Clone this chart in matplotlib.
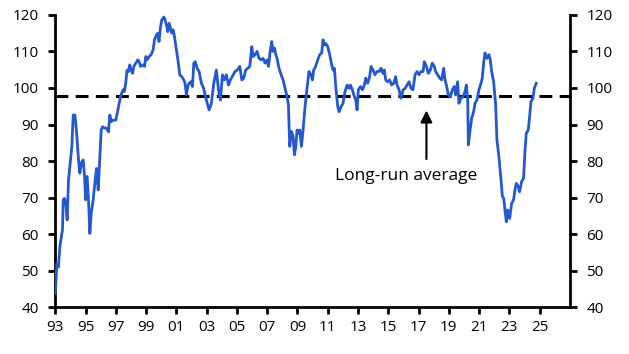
import matplotlib.pyplot as plt
import numpy as np

# index (decimal year, value)
years = [
    1993.0, 1993.1, 1993.2, 1993.3, 1993.43, 1993.47, 1993.52, 1993.6, 1993.69,
    1993.78, 1993.87, 1994.0, 1994.09, 1994.18, 1994.29, 1994.35, 1994.44, 1994.53,
    1994.62, 1994.71, 1994.84, 1994.93, 1995.0, 1995.1, 1995.19, 1995.28, 1995.37,
    1995.5, 1995.63, 1995.72, 1995.83, 1995.94, 1996.03, 1996.12, 1996.27, 1996.38,
    1996.51, 1996.6, 1996.69, 1996.82, 1997.0, 1997.13, 1997.26, 1997.34, 1997.47,
    1997.56, 1997.65, 1997.74, 1997.83, 1997.92, 1998.01, 1998.1, 1998.19, 1998.32,
    1998.45, 1998.54, 1998.63, 1998.76, 1998.89, 1998.98, 1999.07, 1999.2, 1999.33,
    1999.46, 1999.55, 1999.68, 1999.77, 1999.85, 1999.94, 2000.03, 2000.17, 2000.25,
    2000.34, 2000.43, 2000.52, 2000.61, 2000.7, 2000.78, 2000.87, 2001.0, 2001.13,
    2001.22, 2001.35, 2001.49, 2001.57, 2001.66, 2001.75, 2001.84, 2001.97, 2002.06,
    2002.15, 2002.24, 2002.37, 2002.5,
    2002.65, 2002.8, 2002.98, 2003.16, 2003.31, 2003.47, 2003.64, 2003.78, 2003.91,
    2004.04, 2004.17, 2004.3, 2004.44, 2004.57, 2004.75, 2004.88, 2005.01, 2005.19,
    2005.32, 2005.45, 2005.58, 2005.71, 2005.85, 2005.98, 2006.07, 2006.2, 2006.33,
    2006.46, 2006.6, 2006.73, 2006.86, 2006.99, 2007.08, 2007.21, 2007.3, 2007.39,
    2007.48, 2007.57, 2007.65, 2007.78, 2007.92, 2008.05, 2008.18, 2008.31, 2008.4,
    2008.49, 2008.6, 2008.71, 2008.8, 2008.89, 2008.97, 2009.06, 2009.15, 2009.26,
    2009.37, 2009.5, 2009.63, 2009.76, 2009.89, 2009.99, 2010.07, 2010.2, 2010.34,
    2010.47, 2010.6, 2010.69, 2010.78, 2010.87, 2011.0, 2011.13, 2011.26, 2011.35,
    2011.44, 2011.53, 2011.66, 2011.75, 2011.88, 2012.01, 2012.14, 2012.28, 2012.41,
    2012.5, 2012.63, 2012.72, 2012.85, 2012.94, 2013.02, 2013.16, 2013.29, 2013.42,
    2013.51, 2013.64, 2013.77, 2013.86, 2013.99, 2014.12, 2014.25, 2014.39, 2014.52,
    2014.65, 2014.74, 2014.83, 2014.96,
    2015.09, 2015.22, 2015.36, 2015.49, 2015.58, 2015.71, 2015.84, 2015.98, 2016.11,
    2016.24, 2016.37, 2016.5, 2016.63, 2016.77, 2016.9, 2017.03, 2017.16, 2017.3,
    2017.38, 2017.52, 2017.65, 2017.78, 2017.91, 2018.04, 2018.13, 2018.27, 2018.4,
    2018.53, 2018.66, 2018.75, 2018.84, 2018.97, 2019.1, 2019.23, 2019.36, 2019.45,
    2019.58, 2019.67, 2019.8, 2019.94, 2020.07, 2020.16, 2020.25, 2020.29, 2020.38,
    2020.51, 2020.64, 2020.73, 2020.86, 2020.99, 2021.13, 2021.21, 2021.3, 2021.39,
    2021.52, 2021.65, 2021.74, 2021.83, 2021.96, 2022.09, 2022.18, 2022.31, 2022.45,
    2022.54, 2022.63, 2022.71, 2022.8, 2022.89, 2023.02, 2023.15, 2023.28, 2023.37,
    2023.46, 2023.59, 2023.68, 2023.81, 2023.94, 2024.03, 2024.12, 2024.25, 2024.34,
    2024.43, 2024.56, 2024.65, 2024.78,
]
index_values = [
    43.8, 52.0, 51.0, 56.6, 60.2, 61.0, 69.4, 69.8, 68.4,
    63.9, 74.8, 80.3, 84.0, 92.6, 92.6, 90.3, 85.8, 80.3,
    76.7, 79.4, 80.3, 75.8, 69.4, 75.8, 69.4, 60.2, 65.7,
    69.4, 74.8, 78.0, 72.1, 81.2, 88.5, 89.4, 89.0, 89.0,
    88.0, 92.6, 90.8, 91.2, 91.2, 94.0, 96.7, 98.1, 99.5,
    99.0, 101.3, 104.9, 104.5, 106.3, 104.9, 104.0, 105.9, 106.8,
    107.7, 107.2, 105.9, 106.3, 105.9, 108.6, 107.7, 108.6, 109.1,
    110.4, 113.2, 114.5, 115.0, 112.7, 116.4, 118.6, 119.4, 118.6,
    117.3, 115.4, 117.7, 116.4, 115.0, 115.9, 114.1, 110.4, 106.8,
    103.6, 103.1, 102.2, 101.3, 98.1, 100.4, 101.3, 101.7, 100.4,
    106.8, 107.2, 105.4, 104.5,
    101.3, 99.9, 96.7, 94.0, 95.8, 101.3, 104.9, 99.5, 96.7,
    103.6, 102.2, 103.6, 100.8, 102.2, 103.6, 104.5, 104.9, 105.9,
    102.2, 102.7, 104.9, 105.4, 105.9, 111.3, 108.6, 109.1, 110.0,
    108.1, 107.7, 108.1, 106.8, 107.7, 105.9, 110.4, 112.7, 110.0,
    110.9, 109.1, 108.1, 105.4, 103.6, 102.2, 99.9, 97.6, 95.4,
    84.0, 88.1, 86.7, 81.7, 84.0, 88.5, 87.6, 88.5, 84.0,
    88.5, 94.9, 99.9, 104.5, 103.6, 102.2, 104.9, 105.9, 107.7,
    109.1, 109.6, 113.2, 111.8, 112.2, 111.3, 109.1, 106.3, 104.9,
    105.4, 100.4, 94.9, 93.5, 94.9, 95.8, 99.0, 100.8, 99.9,
    100.8, 99.5, 98.1, 96.7, 94.0, 99.5, 100.4, 99.5, 100.8,
    102.7, 101.3, 103.1, 105.9, 104.9, 103.6, 104.5, 104.5, 105.4,
    104.0, 104.9, 102.2, 101.7,
    102.2, 100.8, 101.3, 103.1, 100.8, 99.5, 97.2, 99.5, 99.9,
    100.8, 101.7, 99.9, 99.5, 103.6, 104.5, 103.6, 104.5, 104.5,
    107.2, 105.9, 104.0, 104.9, 106.8, 105.9, 104.5, 103.6, 102.7,
    102.2, 105.4, 102.2, 100.8, 98.1, 97.6, 99.5, 100.4, 98.1,
    101.7, 95.8, 97.2, 97.6, 99.0, 100.8, 96.7, 84.4, 87.6,
    91.7, 93.5, 95.8, 96.7, 99.5, 101.3, 102.7, 106.8, 109.6,
    108.1, 109.1, 107.7, 104.5, 101.7, 95.8, 85.8, 81.2, 74.8,
    70.3, 69.8, 66.6, 63.4, 66.6, 64.3, 68.4, 69.4, 72.1,
    73.9, 73.0, 71.6, 74.4, 75.3, 82.6, 87.6, 88.5, 92.2,
    96.3, 97.2, 99.9, 101.3,
]
long_run_avg = 97.8
x_ticks = list(range(1993, 2026, 2))
y_ticks = list(range(40, 121, 10))

plt.rcParams['font.family'] = ['Open Sans', 'DejaVu Sans']

fig = plt.figure(figsize=(6.29, 3.54), dpi=100)
ax = fig.add_axes([0.088, 0.132, 0.818, 0.826])

ax.plot(years, index_values, color='#2358d0', lw=2.0, zorder=3)
ax.axhline(long_run_avg, color='black', lw=2.2, dashes=(4.2, 2.4), zorder=2)

ax.annotate('', xy=(2017.52, 94.6), xytext=(2017.52, 79.8),
            arrowprops=dict(arrowstyle='-|>,head_width=0.35,head_length=0.7',
                            color='black', lw=1.5))
ax.text(2016.2, 75.9, 'Long-run average', ha='center', va='center', fontsize=12.5)

ax.set_xlim(1993, 2027)
ax.set_ylim(40, 120)
ax.set_xticks(x_ticks)
ax.set_xticklabels(['%02d' % (y % 100) for y in x_ticks])
ax.set_yticks(y_ticks)

for s in ['left', 'right', 'bottom']:
    ax.spines[s].set_linewidth(2)
ax.spines['top'].set_visible(False)
ax.tick_params(axis='both', width=2, length=5, labelsize=11)
ax.tick_params(axis='y', right=True, labelright=True, pad=7)
ax.tick_params(axis='x', pad=4)

fig.savefig('out.png', dpi=100)
